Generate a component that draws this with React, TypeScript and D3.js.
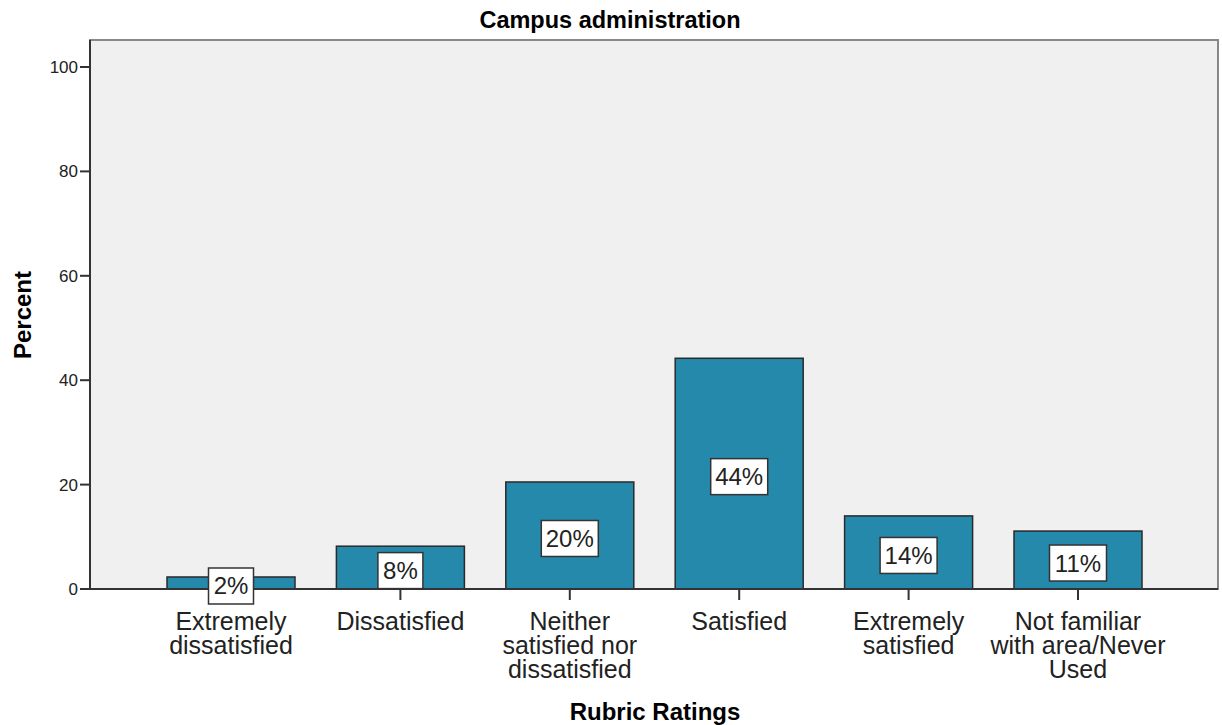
import React from "react";
import * as d3 from "d3";

const categories: string[][] = [
  ["Extremely", "dissatisfied"],
  ["Dissatisfied"],
  ["Neither", "satisfied nor", "dissatisfied"],
  ["Satisfied"],
  ["Extremely", "satisfied"],
  ["Not familiar", "with area/Never", "Used"],
];
const values: number[] = [2.3, 8.2, 20.5, 44.2, 14.0, 11.1];
const labels: string[] = ["2%", "8%", "20%", "44%", "14%", "11%"];
const yTicks: number[] = [0, 20, 40, 60, 80, 100];

const W = 1222;
const H = 725;
const left = 90;
const right = 1218;
const top = 40;
const bottom = 589;
const font = "'Liberation Sans', Arial, sans-serif";

export default function App() {
  const x = d3
    .scalePoint<number>()
    .domain(d3.range(categories.length))
    .range([231, 1078]);
  const y = d3.scaleLinear().domain([0, 100]).range([bottom, 67]);
  const barW = 128;

  return (
    <svg width={W} height={H} style={{ position: "absolute", left: 0, top: 0 }}>
      <rect x={0} y={0} width={W} height={H} fill="#ffffff" />
      <text x={610} y={28} textAnchor="middle" fontFamily={font} fontWeight="bold" fontSize={23.5} fill="#000">
        Campus administration
      </text>
      <rect x={left} y={top} width={right - left} height={bottom - top} fill="#f0f0f0" stroke="#888" strokeWidth={2} />
      {/* y axis */}
      <line x1={left} y1={top} x2={left} y2={bottom} stroke="#333" strokeWidth={2} />
      {yTicks.map((t) => (
        <g key={t}>
          <line x1={left - 10} x2={left} y1={y(t)} y2={y(t)} stroke="#333" strokeWidth={2} />
          <text x={left - 12} y={y(t) + 6} textAnchor="end" fontFamily={font} fontSize={17} fill="#222">
            {t}
          </text>
        </g>
      ))}
      {/* bars */}
      {values.map((v, i) => {
        const cx = x(i)!;
        return (
          <rect key={i} x={cx - barW / 2} y={y(v)} width={barW} height={bottom - y(v)} fill="#2589ab" stroke="#2a2a2a" strokeWidth={1.5} />
        );
      })}
      {/* x axis */}
      <line x1={left} x2={right} y1={bottom} y2={bottom} stroke="#333" strokeWidth={2} />
      {values.map((v, i) => {
        const cx = x(i)!;
        return <line key={i} x1={cx} x2={cx} y1={bottom} y2={bottom + 11} stroke="#333" strokeWidth={2} />;
      })}
      {/* value labels */}
      {values.map((v, i) => {
        const cx = x(i)!;
        const cy = (y(v) + bottom) / 2 + 3;
        const bw = labels[i].length === 2 ? 45 : 57;
        return (
          <g key={i}>
            <rect x={cx - bw / 2} y={cy - 18} width={bw} height={36} fill="#ffffff" stroke="#333" strokeWidth={1.5} />
            <text x={cx} y={cy + 8.5} textAnchor="middle" fontFamily={font} fontSize={24} fill="#222">
              {labels[i]}
            </text>
          </g>
        );
      })}
      {/* category labels */}
      {categories.map((lines, i) => (
        <text key={i} textAnchor="middle" fontFamily={font} fontSize={25} fill="#222">
          {lines.map((l, j) => (
            <tspan key={j} x={x(i)!} y={630 + j * 24}>
              {l}
            </tspan>
          ))}
        </text>
      ))}
      <text x={655} y={720} textAnchor="middle" fontFamily={font} fontWeight="bold" fontSize={24} fill="#000">
        Rubric Ratings
      </text>
      <text transform="translate(31,315) rotate(-90)" textAnchor="middle" fontFamily={font} fontWeight="bold" fontSize={24} fill="#000">
        Percent
      </text>
    </svg>
  );
}
